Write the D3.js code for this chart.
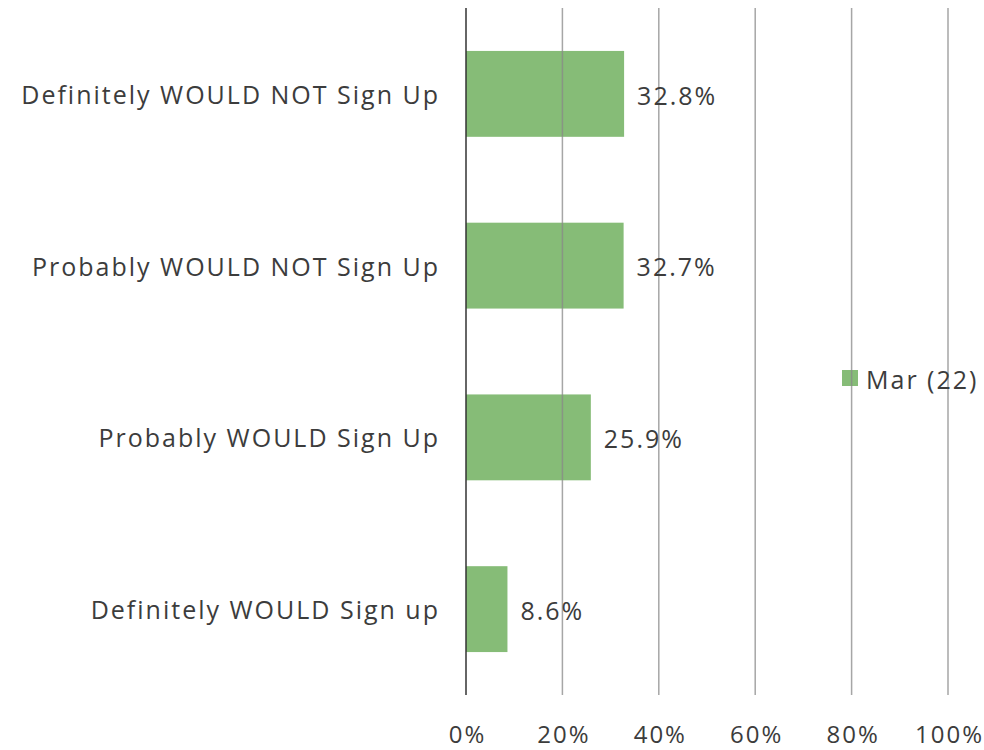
<!DOCTYPE html>
<html><head><meta charset="utf-8">
<script src="https://cdn.jsdelivr.net/npm/d3@7"></script>
<style>body{margin:0;background:#fff;} text{font-family:"Open Sans", sans-serif;fill:#3c3c3c;letter-spacing:2px;}</style>
</head><body>
<svg id="c" width="984" height="750"></svg>
<script>
const categories = ["Definitely WOULD NOT Sign Up","Probably WOULD NOT Sign Up","Probably WOULD Sign Up","Definitely WOULD Sign up"];
const values = [32.8, 32.7, 25.9, 8.6];
const seriesName = "Mar (22)";
const tickValues = [0,20,40,60,80,100];

const svg = d3.select("#c");
const x = d3.scaleLinear().domain([0,100]).range([466,948]);
const y = d3.scaleBand().domain(categories).range([8,695]).paddingInner(0.5).paddingOuter(0.25);
const color = "#86bc77";
const FS = 25;

svg.selectAll("rect.bar").data(values).join("rect").attr("class","bar")
  .attr("x", x(0)).attr("y",(d,i)=>y(categories[i]))
  .attr("width", d=>x(d)-x(0)).attr("height", y.bandwidth()).attr("fill", color);

svg.append("rect").attr("x",842).attr("y",370).attr("width",16).attr("height",16).attr("fill",color);

svg.selectAll("line.grid").data(tickValues.slice(1)).join("line").attr("class","grid")
  .attr("x1",d=>x(d)).attr("x2",d=>x(d)).attr("y1",8).attr("y2",695)
  .attr("stroke","#888").attr("stroke-opacity",0.75).attr("stroke-width",1.5);
svg.append("line").attr("x1",x(0)).attr("x2",x(0)).attr("y1",8).attr("y2",695)
  .attr("stroke","#333").attr("stroke-width",1.5);

const xAxis = d3.axisBottom(x).tickValues(tickValues).tickFormat(d=>d+"%").tickSize(0).tickPadding(0);
const gx = svg.append("g").attr("transform","translate(1,743)").call(xAxis);
gx.select(".domain").remove();
gx.selectAll("text").attr("font-size",24).attr("dy","0").style("font-family","'Open Sans'").attr("fill","#3c3c3c");

const yAxis = d3.axisLeft(y).tickSize(0).tickPadding(0);
const gy = svg.append("g").attr("transform","translate(440,2)").call(yAxis);
gy.select(".domain").remove();
gy.selectAll("text").attr("font-size",FS).style("font-family","'Open Sans'").attr("fill","#3c3c3c");

svg.selectAll("text.val").data(values).join("text").attr("class","val")
  .attr("x",d=>x(d)+13).attr("y",(d,i)=>y(categories[i])+y.bandwidth()/2+2)
  .attr("dy","0.35em").attr("font-size",FS).text(d=>d.toFixed(1)+"%");

svg.append("text").attr("x",866).attr("y",380).attr("dy","0.35em").attr("font-size",FS).text(seriesName);
</script>
</body></html>
